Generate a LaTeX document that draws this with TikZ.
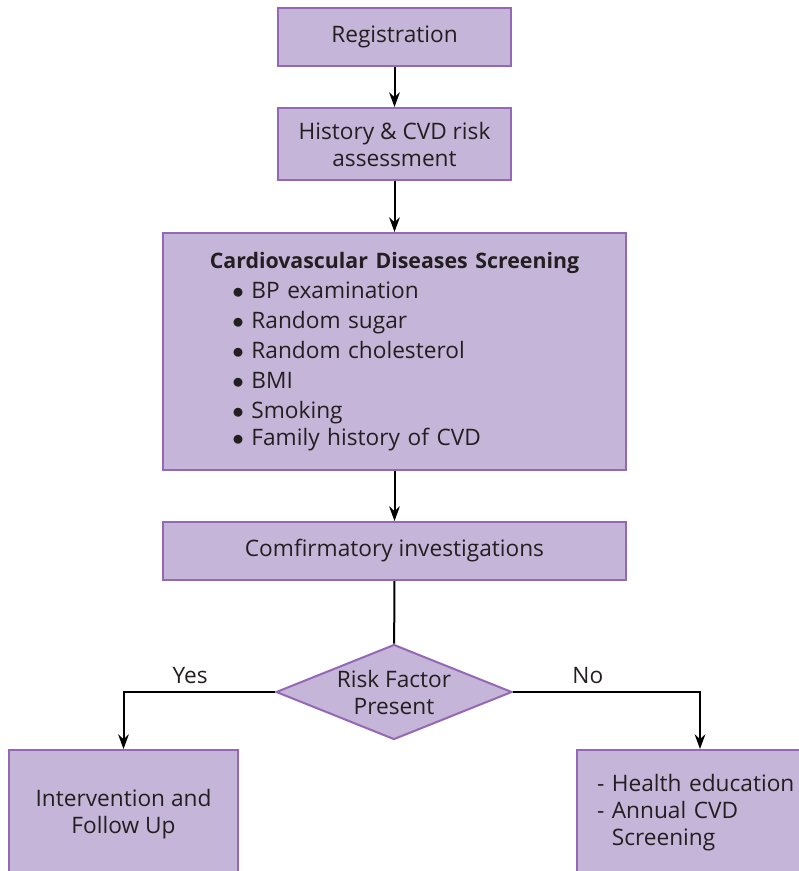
\documentclass[tikz,border=0pt]{standalone}
\usepackage{fontspec}
\setmainfont{Open Sans}
\usetikzlibrary{shapes.geometric,arrows.meta,positioning}
\definecolor{boxfill}{RGB}{197,181,216}
\definecolor{boxline}{RGB}{148,104,180}
\definecolor{ink}{RGB}{35,31,32}
\newdimen\px \px=0.75pt
\newcommand{\itm}{\hspace*{52pt}$\bullet$\ }
\begin{document}
\begin{tikzpicture}[x=0.75pt,y=-0.75pt,>={Stealth[length=11pt,width=8pt]},line width=1.5pt,
		every node/.style={text=ink,font=\fontsize{17}{20.25}\selectfont},
		block/.style={draw=boxline,fill=boxfill,line width=1.5pt,align=center,inner sep=0pt},
		decision/.style={diamond,draw=boxline,fill=boxfill,line width=1.5pt,align=center,
			inner sep=0pt,shape aspect=2.48,minimum width=236\px,minimum height=95\px}]
		\useasboundingbox (0,0) rectangle (799,871);
		\clip (0,0) rectangle (799,871);

		\node[block,minimum width=233\px,minimum height=58\px] (reg) at (394.5,37) {Registration};
		\node[block,minimum width=233\px,minimum height=72\px] (hist) at (394.5,144) {History \& CVD risk\\assessment};
		\node[block,minimum width=463\px,minimum height=237\px,align=left,text width=463\px] (cvd) at (394.5,351.5)
			{\fontsize{17}{22.5}\selectfont
			\makebox[463\px][c]{\fontsize{16}{22.5}\selectfont\bfseries Cardiovascular Diseases Screening}\\
			\itm BP examination\\
			\itm Random sugar\\
			\itm Random cholesterol\\
			\itm BMI\\
			\itm Smoking\\
			\itm Family history of CVD};
		\node[block,minimum width=463\px,minimum height=58\px] (conf) at (394.5,551) {Comfirmatory investigations};
		\node[decision] (risk) at (394,692) {Risk Factor\\Present};
		\node[block,minimum width=229\px,minimum height=129\px,anchor=north] (interv) at (123.5,749) {Intervention and\\Follow Up};
		\node[block,minimum width=246\px,minimum height=125\px,anchor=north,align=left,
			text width=206\px,inner xsep=20\px] (hlth) at (700,749)
			{- Health education\\- Annual CVD\\\phantom{- }Screening};

		\draw[->] (reg) -- (hist);
		\draw[->] (hist) -- (cvd);
		\draw[->] (cvd) -- (conf);
		\draw (conf) -- (risk);
		\draw[->] (risk.west) -| node[pos=0.28,above=2pt] {Yes} (interv.north);
		\draw[->] (risk.east) -| node[pos=0.2,above=2pt] {No} (hlth.north);
	\end{tikzpicture}
\end{document}
